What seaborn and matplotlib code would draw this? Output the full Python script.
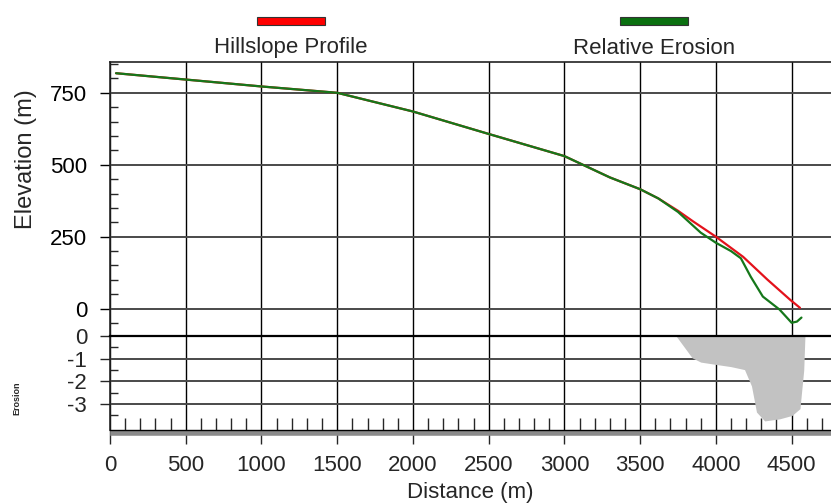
import matplotlib
matplotlib.use('Agg')
import matplotlib.pyplot as plt
import matplotlib.patheffects as pe
from matplotlib.patches import Rectangle
from matplotlib.ticker import MultipleLocator, FixedLocator
import pandas as pd
import seaborn as sns

# hillslope profile (distance m, elevation m)
profile_dist = [40, 500, 1000, 1500, 2000, 2500, 3000, 3150, 3300, 3500, 3620, 3750,
                3850, 4000, 4180, 4340, 4490, 4555]
profile_elev = [818, 796, 772, 750, 685, 607, 530, 493, 456, 415, 383, 340,
                303, 250, 180, 101, 31, 3]

# profile after relative erosion
erosion_dist = [40, 500, 1000, 1500, 2000, 2500, 3000, 3150, 3300, 3500, 3620, 3750,
                3900, 4000, 4100, 4165, 4230, 4310, 4420, 4500, 4535, 4565]
erosion_elev = [818, 796, 772, 750, 685, 607, 530, 493, 456, 415, 383, 336,
                264, 229, 200, 175, 111, 42, -3, -49, -45, -31]

# soil loss along the slope (lower panel)
loss_dist = [3737, 3790, 3843, 3900, 4009, 4100, 4189, 4235, 4268, 4322, 4420, 4502,
             4555, 4580, 4588]
loss_val = [0, -0.48, -0.96, -1.15, -1.26, -1.35, -1.48, -2.2, -3.35, -3.74, -3.65, -3.5,
            -3.2, -1.5, 0]

x_ticks = [0, 500, 1000, 1500, 2000, 2500, 3000, 3500, 4000, 4500]
elev_ticks = [0, 250, 500, 750]
loss_ticks = [0, -1, -2, -3]

RED = '#e3121b'
GREEN = '#15771a'

sns.set_style('white')
plt.rcParams['font.family'] = ['Liberation Sans', 'DejaVu Sans']
plt.rcParams['axes.unicode_minus'] = False

W, H = 831, 504
fig = plt.figure(figsize=(W / 100, H / 100), dpi=100)
ax = fig.add_axes([110 / W, 1 - 336 / H, 1 - 110 / W, (336 - 62) / H])
ax2 = fig.add_axes([110 / W, 1 - 430 / H, 1 - 110 / W, (430 - 336) / H], sharex=ax)

df_p = pd.DataFrame({'dist': profile_dist, 'elev': profile_elev})
df_e = pd.DataFrame({'dist': erosion_dist, 'elev': erosion_elev})
sns.lineplot(data=df_p, x='dist', y='elev', ax=ax, color=RED, lw=1.6,
             sort=False, estimator=None, zorder=3)
sns.lineplot(data=df_e, x='dist', y='elev', ax=ax, color=GREEN, lw=1.6,
             sort=False, estimator=None, zorder=4)

ax.set_xlim(0, 4760)
ax.set_ylim(-95, 857)
ax.set_xticks(x_ticks)
ax.set_yticks(elev_ticks)
ax.yaxis.set_minor_locator(MultipleLocator(50))
ax.grid(axis='x', color='black', lw=1.0)
ax.grid(axis='y', color='#4a4a4a', lw=1.4)
ax.tick_params(axis='x', which='both', bottom=False, labelbottom=False)
ax.tick_params(axis='y', which='major', direction='out', length=7.5, width=1,
               labelsize=16, pad=9, left=True, colors='black')
ax.tick_params(axis='y', which='minor', direction='in', length=6, width=1, left=True)
ax.set_xlabel('')
ax.set_ylabel('')
for s in ['top', 'left']:
    ax.spines[s].set_color('#222222')
    ax.spines[s].set_linewidth(1.2)
ax.spines['right'].set_visible(False)
ax.spines['bottom'].set_visible(False)

# lower panel: soil loss
ax2.fill_between(loss_dist, loss_val, 0, color='#c2c2c2', lw=0, zorder=2)
ax2.set_ylim(-4.14, 0)
ax2.set_yticks(loss_ticks)
ax2.yaxis.set_minor_locator(FixedLocator([-0.5, -1.5, -2.5, -3.5]))
ax2.xaxis.set_minor_locator(MultipleLocator(100))
ax2.grid(axis='x', color='black', lw=1.0)
ax2.grid(axis='y', color='#4a4a4a', lw=1.4)
ax2.tick_params(axis='y', which='major', direction='out', length=7.5, width=1,
                labelsize=16, pad=9, left=True)
ax2.tick_params(axis='y', which='minor', direction='in', length=6, width=1, left=True)
ax2.tick_params(axis='x', which='major', direction='out', length=10, width=1,
                labelsize=16, pad=8, bottom=True)
ax2.tick_params(axis='x', which='minor', direction='in', length=9, width=1, bottom=True)
ax2.set_xlabel('Distance (m)', fontsize=16, labelpad=4)
ax2.set_ylabel('')
ax2.spines['right'].set_visible(False)
ax2.spines['top'].set_color('black')
ax2.spines['top'].set_linewidth(1.6)
ax2.spines['left'].set_color('#222222')
ax2.spines['left'].set_linewidth(1.2)
ax2.spines['bottom'].set_color('black')
ax2.spines['bottom'].set_linewidth(1.0)
ax2.spines['bottom'].set_path_effects([
    pe.SimpleLineShadow(offset=(2, -2.5), shadow_color='#8a8a8a', alpha=1, linewidth=4),
    pe.Normal()])

fig.text(26 / W, 1 - 159 / H, 'Elevation (m)', rotation=90, ha='center', va='center',
         fontsize=17)
fig.text(17 / W, 1 - 398 / H, 'Erosion', rotation=90, ha='center', va='center',
         fontsize=6.5, fontweight='bold')

# legend: colour bar above each label
for x0, x1, col, label in [(257, 325, '#ff0000', 'Hillslope Profile'),
                           (620, 688, '#0a7010', 'Relative Erosion')]:
    fig.add_artist(Rectangle((x0 / W, 1 - 25 / H), (x1 - x0) / W, 8 / H,
                             transform=fig.transFigure, facecolor=col,
                             edgecolor='#333333', lw=0.8))
    fig.text((x0 + x1) / 2 / W, 1 - 48 / H, label, ha='center', va='center', fontsize=16)

fig.savefig('out.png', dpi=100)
